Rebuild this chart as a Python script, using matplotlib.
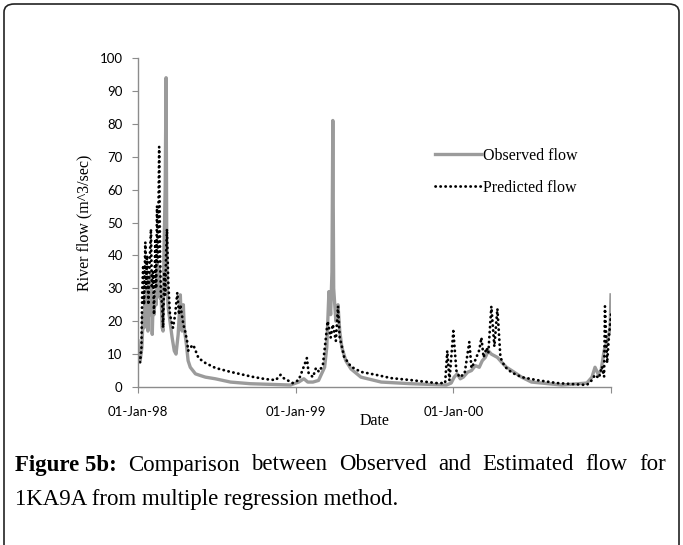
import numpy as np
import matplotlib
matplotlib.use("Agg")
import matplotlib.pyplot as plt
from matplotlib.patches import FancyBboxPatch

# daily flow, days counted from 01-Jan-98
start = np.datetime64("1998-01-01")

obs_days = [0, 2, 5, 9, 12, 14, 16, 19, 21, 23,
            26, 28, 30, 33, 35, 37, 40, 42, 44, 47,
            49, 51, 53, 56, 58, 60, 63, 65, 67, 70,
            74, 79, 84, 88, 93, 98, 100, 102, 105, 107,
            112, 116, 121, 133, 144, 156, 179, 214, 260, 307,
            353, 372, 384, 393, 405, 418, 425, 432, 437, 442,
            446, 449, 451, 453, 458, 463, 467, 472, 481, 493,
            516, 563, 632, 714, 725, 732, 739, 746, 753, 763,
            772, 781, 790, 797, 804, 811, 818, 825, 832, 842,
            853, 865, 888, 911, 981, 1039, 1051, 1058, 1065, 1072,
            1079, 1086, 1090, 1093, 1095]
obs_flow = [14, 9, 8, 12, 22, 18, 27, 20, 30, 17,
            33, 22, 35, 16, 26, 22, 28, 25, 38, 33,
            36, 27, 30, 18, 17, 40, 61, 94, 30, 24,
            20, 15, 11, 10, 16, 28, 20, 17, 25, 18,
            13, 8, 6, 4, 3.5, 3, 2.5, 1.5, 1.0, 0.8,
            0.6, 1.5, 2.5, 1.5, 1.5, 2, 4, 6, 12, 29,
            22, 35, 81, 30, 20, 25, 17, 12, 8, 5.5,
            3, 1.5, 1.0, 0.6, 1.2, 3, 4, 2.5, 3, 4.5,
            5, 6.5, 6, 8, 9, 11, 10, 9.5, 9, 7.5,
            6, 5, 3, 1.5, 0.6, 1.2, 3, 6, 4, 5,
            11, 14, 16, 18, 28]

pred_days = [0, 2, 5, 8, 10, 12, 14, 17, 19, 21,
             24, 27, 30, 32, 35, 37, 40, 42, 44, 46,
             49, 51, 53, 56, 58, 61, 63, 65, 67, 70,
             74, 81, 86, 91, 95, 98, 105, 109, 114, 116,
             121, 128, 140, 156, 179, 214, 265, 295, 319, 330,
             337, 358, 372, 381, 391, 395, 405, 412, 419, 428,
             435, 439, 442, 446, 451, 458, 463, 467, 472, 477,
             493, 516, 551, 586, 632, 691, 711, 716, 721, 730,
             737, 744, 756, 767, 772, 779, 790, 795, 800, 807,
             811, 818, 825, 832, 839, 849, 865, 888, 923, 970,
             1039, 1051, 1058, 1067, 1074, 1079, 1081, 1086, 1090, 1095]
pred_flow = [10.5, 8, 7.5, 12, 30, 37, 25, 44, 30, 40,
             25, 38, 48, 30, 35, 22, 45, 30, 55, 38,
             73, 40, 28, 25, 18, 35, 28, 40, 48, 32,
             22, 18, 22, 28.7, 22, 25, 19, 17, 13.7, 11,
             12, 12.8, 8.8, 7.3, 5.8, 4.6, 3.1, 2.4, 2.1, 3.7,
             2.7, 1.2, 2.1, 5.2, 8.8, 4.2, 3, 5.8, 4.6, 6.7,
             15, 20, 18, 15, 19, 14, 24.5, 15, 12.3, 9.2,
             6.2, 4.6, 3.7, 2.7, 2.1, 1.2, 1.2, 11, 2, 17,
             5, 3, 4, 13.7, 5.8, 7.6, 11.2, 15, 9, 11.9,
             10.3, 24.5, 12.3, 23.8, 9, 6.2, 4.4, 3, 2.1, 1.2,
             0.6, 2.1, 3.7, 2.7, 6.2, 3.1, 24.5, 7.3, 15, 22]

tick_dates = ["1998-01-01", "1999-01-01", "2000-01-01", "2000-12-31"]
tick_labels = ["01-Jan-98", "01-Jan-99", "01-Jan-00", ""]
y_ticks = [0, 10, 20, 30, 40, 50, 60, 70, 80, 90, 100]

serif = "Liberation Serif"
sans = "Lato"

obs_x = start + np.array(obs_days).astype("timedelta64[D]")
pred_x = start + np.array(pred_days).astype("timedelta64[D]")

fig = plt.figure(figsize=(6.83, 5.45), dpi=100)

# rounded frame round the whole figure panel
frame = FancyBboxPatch((4 / 683, -0.05), 675 / 683, 1 - 4 / 545 + 0.05,
                       boxstyle="round,pad=0,rounding_size=0.015",
                       transform=fig.transFigure, fill=False,
                       edgecolor="#222222", linewidth=1.2)
fig.patches.append(frame)

ax = fig.add_axes([138 / 683, 1 - 387 / 545, 473 / 683, 329 / 545])
ax.plot(obs_x, obs_flow, color="#9b9b9b", linewidth=2.4,
        solid_joinstyle="round", label="Observed flow")
ax.plot(pred_x, pred_flow, color="black", linewidth=2.0,
        linestyle=(0, (0.1, 1.7)), dash_capstyle="round",
        label="Predicted flow")

ax.set_xlim(np.datetime64(tick_dates[0]), np.datetime64(tick_dates[-1]))
ax.set_ylim(0, 100)
ax.set_xticks([np.datetime64(d) for d in tick_dates])
ax.set_xticklabels(tick_labels, fontfamily=sans, fontsize=9.5)
ax.set_yticks(y_ticks)
ax.set_yticklabels([str(v) for v in y_ticks], fontfamily=sans, fontsize=9.5)

for s in ["top", "right"]:
    ax.spines[s].set_visible(False)
for s in ["left", "bottom"]:
    ax.spines[s].set_color("#8c8c8c")
    ax.spines[s].set_linewidth(1.0)
ax.tick_params(axis="x", length=4, color="#8c8c8c", pad=10)
ax.tick_params(axis="y", length=4, color="#8c8c8c", pad=7)

ax.set_xlabel("Date", fontfamily=serif, fontsize=11.5, labelpad=-4)
ax.set_ylabel("River flow (m^3/sec)", fontfamily=serif, fontsize=11.5,
              labelpad=5)

ax.legend(loc="upper left", bbox_to_anchor=(0.597, 0.77), frameon=False,
          prop={"family": serif, "size": 11.5}, handlelength=2.9,
          handletextpad=0.15, labelspacing=1.0)

# justified caption, first line spread across the full width
cap_left, cap_right = 15 / 683, 666 / 683
cap_size = 16.5
renderer = fig.canvas.get_renderer()
line1 = [("Figure 5b:", "bold"), ("Comparison", "normal"), ("between", "normal"),
         ("Observed", "normal"), ("and", "normal"), ("Estimated", "normal"),
         ("flow", "normal"), ("for", "normal")]
y1 = 1 - 465 / 545
texts = []
for word, weight in line1:
    t = fig.text(0, y1, word, fontfamily=serif, fontsize=cap_size,
                 fontweight=weight, va="center", ha="left")
    texts.append(t)
widths = [t.get_window_extent(renderer).width / fig.bbox.width for t in texts]
gap = (cap_right - cap_left - sum(widths)) / (len(texts) - 1)
x = cap_left
for t, w in zip(texts, widths):
    t.set_x(x)
    x += w + gap

fig.text(cap_left, 1 - 500 / 545, "1KA9A from multiple regression method.",
         fontfamily=serif, fontsize=cap_size, va="center", ha="left")

fig.savefig("out.png", dpi=100)
